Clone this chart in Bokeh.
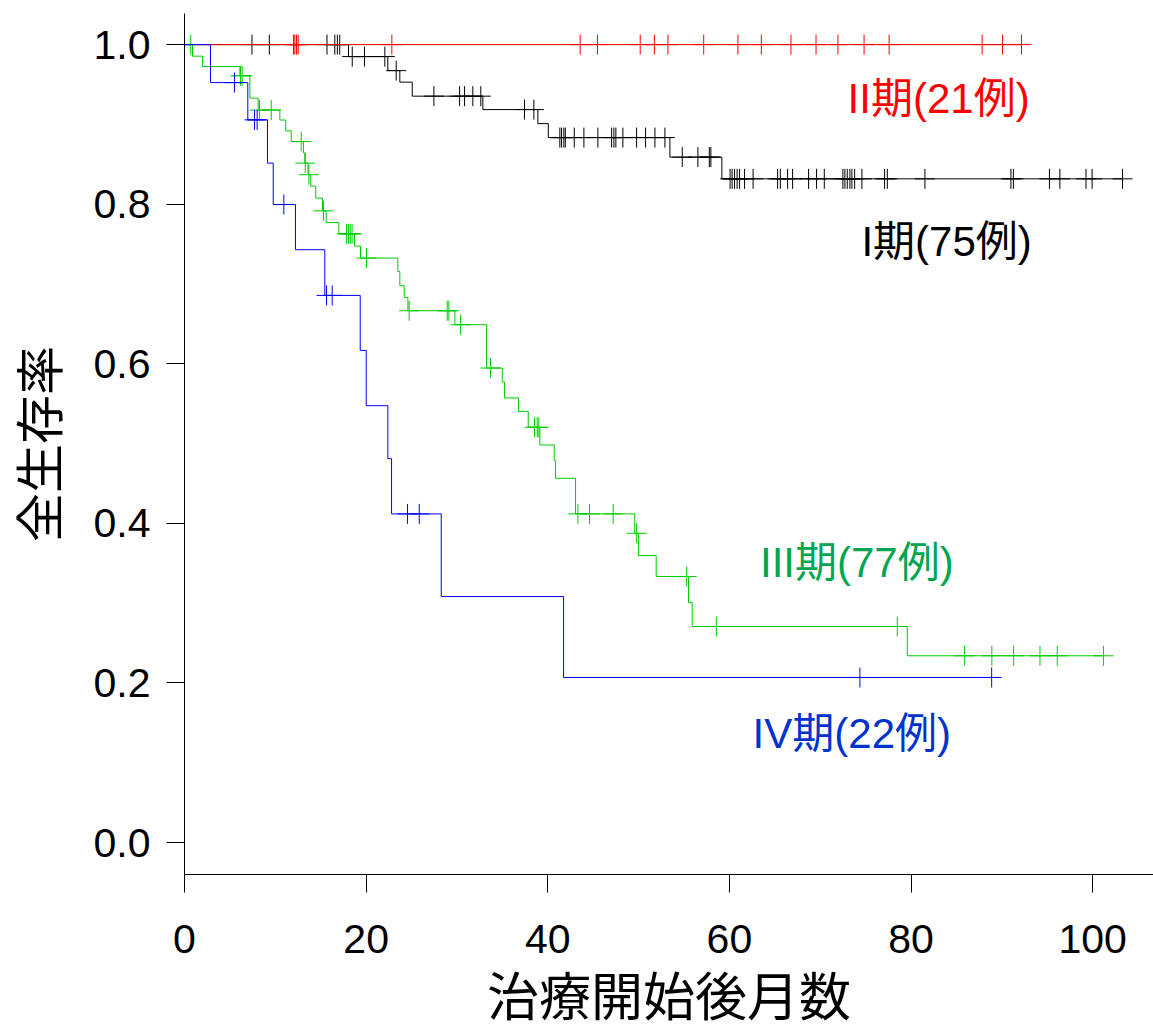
import numpy as np
from bokeh.plotting import figure
from bokeh.models import FixedTicker, PrintfTickFormatter, ColumnDataSource, Range1d
from bokeh.embed import file_html
from bokeh.resources import INLINE
from bokeh.core.properties import value

# ---------------- data (months, survival) ----------------
# Stage I (75 cases)
s1_event_t = [18.06, 22.39, 23.71, 25.08, 32.85, 38.91, 40.06, 53.45, 59.17]
s1_event_s = [0.985, 0.9674, 0.953, 0.9354, 0.9186, 0.901, 0.8835, 0.859, 0.8318]
s1_censor_t = [7.43, 9.34, 15.69, 16.55, 16.83, 17.09,
               18.47, 19.82, 22.06, 23.31,
               27.46, 30.29, 30.84, 31.75, 32.63, 37.44, 38.47,
               41.33, 41.52, 41.77, 41.93, 42.92, 43.98, 45.52, 47.03, 47.28, 47.50,
               48.27, 49.78, 50.77, 51.80, 52.90,
               54.81, 56.53, 57.79, 57.96,
               60.08, 60.30, 60.57, 60.85, 61.12, 61.67, 62.61, 65.31, 65.61, 66.41,
               66.96, 68.72, 69.60, 70.45, 72.50, 72.72, 72.98, 73.27, 73.49, 73.79,
               74.59, 77.09, 77.39, 81.53, 91.00, 91.27, 95.24, 96.39, 99.27, 99.94,
               103.29]

# Stage II (21 cases) - no deaths
s2_event_t = []
s2_event_s = []
s2_censor_t = [12.0, 12.15, 12.33, 12.52, 22.83, 43.57, 45.47, 50.18, 51.74, 53.23,
               57.17, 60.94, 63.52, 66.78, 69.54, 71.95, 74.83, 77.59, 87.83, 90.08,
               92.16]

# Stage III (77 cases)
s3_event_t = [0.88, 1.98, 6.1, 7.2, 8.11, 10.5, 11.15, 11.75, 13.1, 13.25, 13.6, 13.9,
              14.45, 15.2, 15.6, 17.0, 18.72, 19.38, 23.49, 23.71, 24.19, 24.6, 29.77,
              33.26, 34.99, 35.24, 36.78, 37.85, 39.13, 40.71, 40.86, 43.06, 49.58,
              49.98, 51.94, 55.5, 55.9, 79.59]
s3_event_s = [0.9855, 0.9725, 0.961, 0.9329, 0.918, 0.9055, 0.892, 0.8785, 0.8644,
              0.8515, 0.837, 0.8227, 0.8077, 0.7917, 0.777, 0.7629, 0.7475, 0.7325,
              0.7157, 0.6978, 0.6832, 0.6665, 0.649, 0.5947, 0.5772, 0.5572, 0.5404,
              0.5204, 0.4983, 0.4786, 0.4565, 0.4119, 0.3876, 0.3597, 0.3334, 0.3008,
              0.2708, 0.2341]
s3_censor_t = [0.69, 6.17, 6.35, 8.26, 9.55, 12.85, 13.3, 13.7, 15.3,
               17.85, 18.05, 18.25, 18.45, 20.04, 24.74, 28.93, 29.11, 30.4, 33.7,
               38.55, 38.84, 39.02, 43.32, 44.60, 47.2, 49.79, 55.3, 58.56, 78.49,
               85.9, 88.9, 91.3, 94.2, 96.1, 101.2]

# Stage IV (22 cases)
s4_event_t = [2.86, 6.97, 9.14, 9.77, 12.22, 15.45, 19.35, 20.01, 22.39, 22.80, 28.27, 41.74]
s4_event_s = [0.9524, 0.9057, 0.8515, 0.7996, 0.743, 0.6857, 0.6168, 0.5475, 0.4811,
              0.4119, 0.3083, 0.2069]
s4_censor_t = [5.5, 7.71, 8.0, 10.94, 15.64, 16.26, 24.56, 25.85, 74.37, 88.88]

group_names = ["I期(75例)", "II期(21例)", "III期(77例)", "IV期(22例)"]

x_ticks = [0, 20, 40, 60, 80, 100]
y_ticks = [0.0, 0.2, 0.4, 0.6, 0.8, 1.0]

# ---------------- styling / layout ----------------
line_colors = ["#000000", "#ff0000", "#00cc00", "#0000ff"]
text_colors = ["#000000", "#ff0000", "#00a651", "#0033cc"]
label_pos_x = [93.3, 93.06, 84.7, 84.4]
label_pos_y = [0.753, 0.932, 0.351, 0.137]

LATIN = "'Liberation Sans', 'Noto Sans CJK JP'"

p = figure(width=1153, height=1029, output_backend="svg", toolbar_location=None,
           x_range=Range1d(0, 106.7), y_range=Range1d(-0.04, 1.039),
           min_border_left=184, min_border_right=0, min_border_top=13,
           min_border_bottom=155)
p.outline_line_color = None
p.xgrid.visible = False
p.ygrid.visible = False
p.background_fill_color = "white"
p.border_fill_color = "white"

groups = [
    (s1_event_t, s1_event_s, s1_censor_t),
    (s2_event_t, s2_event_s, s2_censor_t),
    (s3_event_t, s3_event_s, s3_censor_t),
    (s4_event_t, s4_event_s, s4_censor_t),
]

for (et, es, ct), lc in zip(groups, line_colors):
    levels = [1.0] + list(es)
    end = max(list(ct) + list(et))
    xs = [0.0] + list(et) + [end]
    ys = levels + [levels[-1]]
    p.step(xs, ys, mode="after", line_color=lc, line_width=1)
    idx = np.searchsorted(np.array(et, dtype=float), np.array(ct, dtype=float), side="right")
    cy = [levels[i] for i in idx]
    p.scatter(ct, cy, marker="cross", size=20, line_color=lc, line_width=1)

src = ColumnDataSource(dict(x=label_pos_x, y=label_pos_y, t=group_names, c=text_colors))
p.text(x="x", y="y", text="t", text_color="c", source=src,
       text_font=value(LATIN), text_font_size="42px",
       text_align="right", text_baseline="alphabetic")

for ax in (p.xaxis[0], p.yaxis[0]):
    ax.axis_line_color = "black"
    ax.axis_line_width = 1
    ax.major_tick_line_color = "black"
    ax.major_tick_out = 18
    ax.major_tick_in = 0
    ax.minor_tick_line_color = None
    ax.major_label_text_font = LATIN
    ax.major_label_text_font_size = "41px"
    ax.major_label_text_color = "black"
    ax.axis_label_text_font = LATIN
    ax.axis_label_text_font_style = "normal"
    ax.axis_label_text_color = "black"

p.xaxis.ticker = FixedTicker(ticks=x_ticks)
p.yaxis.ticker = FixedTicker(ticks=y_ticks)
p.yaxis.formatter = PrintfTickFormatter(format="%.1f")
p.xaxis.major_label_standoff = 32
p.yaxis.major_label_standoff = 16
p.xaxis.axis_label = "治療開始後月数"
p.yaxis.axis_label = "全生存率"
p.xaxis.axis_label_text_font_size = "52px"
p.yaxis.axis_label_text_font_size = "49px"
p.xaxis.axis_label_standoff = 13
p.yaxis.axis_label_standoff = 23

open("out.html", "w").write(file_html(p, INLINE))
